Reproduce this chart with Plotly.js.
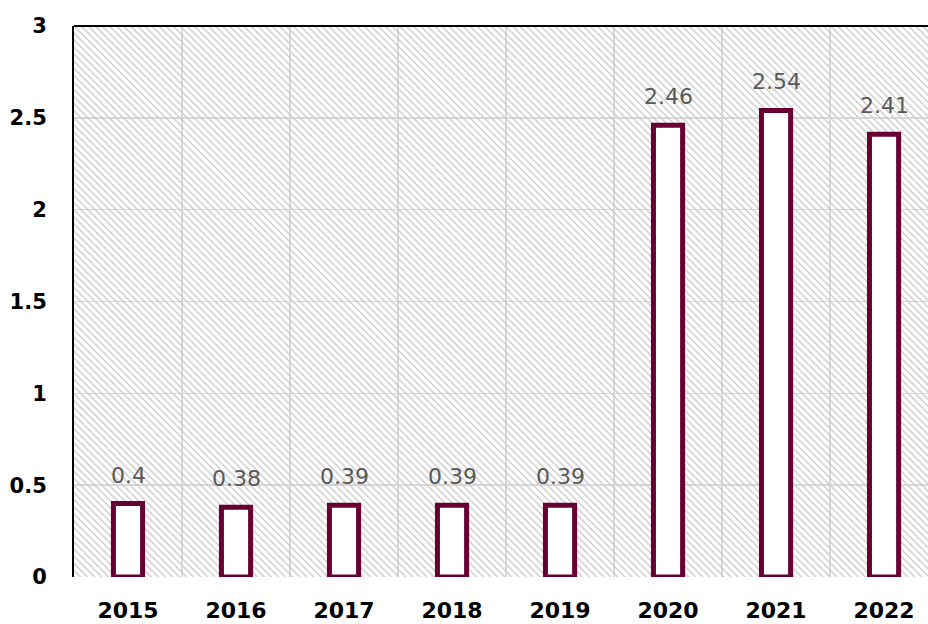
<!DOCTYPE html>
<html>
<head>
<meta charset="utf-8">
<script src="https://cdn.plot.ly/plotly-3.0.1.min.js"></script>
<style>html,body{margin:0;padding:0;background:#fff;}#chart{width:928px;height:624px;}</style>
</head>
<body>
<div id="chart"></div>
<script>
var years = ['2015', '2016', '2017', '2018', '2019', '2020', '2021', '2022'];
var values = [0.4, 0.38, 0.39, 0.39, 0.39, 2.46, 2.54, 2.41];
var labels = ['0.4', '0.38', '0.39', '0.39', '0.39', '2.46', '2.54', '2.41'];
var yTicks = [0, 0.5, 1, 1.5, 2, 2.5, 3];
var yTickText = ['0', '0.5', '1', '1.5', '2', '2.5', '3'];
var yMax = 3;

var bgTrace = {
  type: 'bar', x: years, y: years.map(function(){ return yMax; }), width: 1,
  marker: {color: '#c8c8c8', line: {width: 0}, pattern: {shape: '\\', size: 5, solidity: 0.28, fillmode: 'replace'}},
  hoverinfo: 'skip', showlegend: false
};
var barTrace = {
  type: 'bar', x: years, y: values, width: 0.27,
  marker: {color: '#ffffff', line: {color: '#680034', width: 5}, cornerradius: 2},
  hoverinfo: 'skip', showlegend: false
};
var annotations = years.map(function(yr, i){
  return {xref: 'x', yref: 'y', x: i, y: values[i], text: labels[i], showarrow: false, xanchor: 'center', yanchor: 'bottom', yshift: 14,
    font: {family: 'DejaVu Sans', size: 22, color: '#595959'}};
});
var layout = {
  width: 928, height: 624,
  margin: {l: 74, r: 0, t: 26, b: 47},
  paper_bgcolor: '#ffffff', plot_bgcolor: '#ffffff',
  barmode: 'overlay', bargap: 0,
  xaxis: {type: 'category', range: [-0.5, 7.407], tickson: 'boundaries', showgrid: true, gridcolor: '#d9d9d9', gridwidth: 1.5,
    ticks: '', showline: false, zeroline: false, ticklabelstandoff: 18,
    tickfont: {family: 'DejaVu Sans', size: 22, color: '#000000', weight: 'bold'}, fixedrange: true},
  yaxis: {range: [0, yMax], tickvals: yTicks, ticktext: yTickText, showgrid: true, gridcolor: '#d9d9d9', gridwidth: 1.5,
    zeroline: false, showline: true, linecolor: '#000000', linewidth: 2, ticks: '', ticklabelstandoff: 21,
    tickfont: {family: 'DejaVu Sans', size: 21, color: '#000000', weight: 'bold'}, fixedrange: true},
  shapes: [{type: 'line', xref: 'paper', yref: 'paper', x0: 0, x1: 1, y0: 1, y1: 1, line: {color: '#000000', width: 2}}],
  annotations: annotations,
  showlegend: false
};
Plotly.newPlot('chart', [bgTrace, barTrace], layout, {displayModeBar: false, staticPlot: true});
</script>
</body>
</html>
